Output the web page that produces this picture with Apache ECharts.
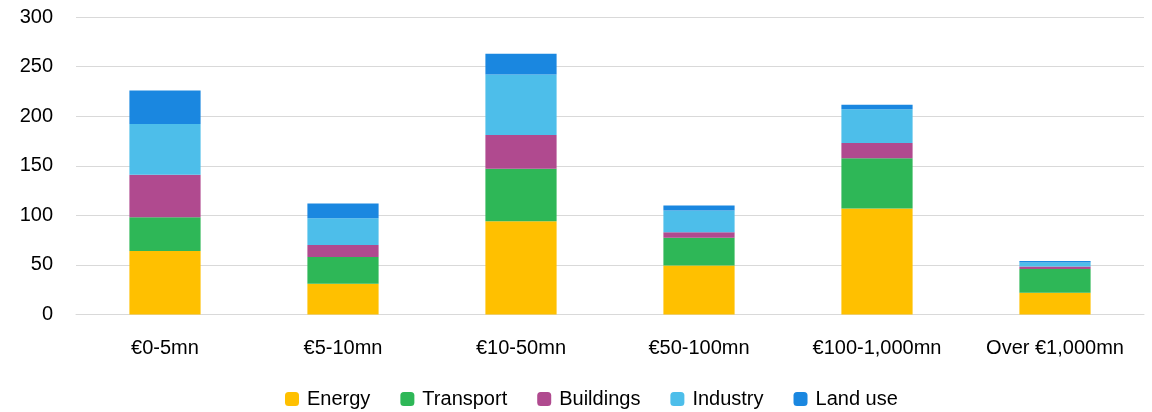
<!DOCTYPE html>
<html>
<head>
<meta charset="utf-8">
<script src="https://cdn.jsdelivr.net/npm/echarts@6/dist/echarts.min.js"></script>
<style>
  html, body { margin: 0; padding: 0; background: #fff; }
  #chart { width: 1152px; height: 412px; }
</style>
</head>
<body>
<div id="chart"></div>
<script>
// categories and stacked values
var categories = ['€0-5mn', '€5-10mn', '€10-50mn', '€50-100mn', '€100-1,000mn', 'Over €1,000mn'];
var energy    = [64, 31, 94, 49.5, 107, 22];
var transport = [34, 27, 53, 28, 50.5, 24];
var buildings = [43, 12, 34, 5.5, 15.5, 2.5];
var industry  = [51, 27, 61, 22, 34, 4];
var landUse   = [34, 15, 21, 5, 4.5, 1.5];
var yTicks = { min: 0, max: 300, interval: 50 };

var font = 'Liberation Sans, Arial, sans-serif';

function bar(name, data, color) {
  return {
    name: name,
    type: 'bar',
    stack: 'total',
    data: data,
    barWidth: '40%',
    itemStyle: { color: color },
    emphasis: { disabled: true }
  };
}

var myChart = echarts.init(document.getElementById('chart'));
myChart.setOption({
  animation: false,
  grid: { left: 76, right: 8, top: 17, bottom: 97.5, containLabel: false },
  legend: {
    top: 384,
    left: 280,
    itemWidth: 14,
    itemHeight: 14,
    itemGap: 30,
    textStyle: { fontFamily: font, fontSize: 20, color: '#000', padding: [0, 0, 0, 3] },
    data: ['Energy', 'Transport', 'Buildings', 'Industry', 'Land use']
  },
  xAxis: {
    type: 'category',
    data: categories,
    axisTick: { show: false },
    axisLine: { lineStyle: { color: '#d9d9d9', width: 1 } },
    axisLabel: { interval: 0, fontFamily: font, fontSize: 20, color: '#000', margin: 24 }
  },
  yAxis: {
    type: 'value',
    min: yTicks.min,
    max: yTicks.max,
    interval: yTicks.interval,
    axisLine: { show: false },
    axisTick: { show: false },
    axisLabel: { fontFamily: font, fontSize: 20, color: '#000', margin: 23 },
    splitLine: { lineStyle: { color: '#d9d9d9', width: 1 } }
  },
  series: [
    bar('Energy', energy, '#FFC000'),
    bar('Transport', transport, '#2EB757'),
    bar('Buildings', buildings, '#B04A8F'),
    bar('Industry', industry, '#4DBEEA'),
    bar('Land use', landUse, '#1A87E0')
  ]
});
</script>
</body>
</html>
